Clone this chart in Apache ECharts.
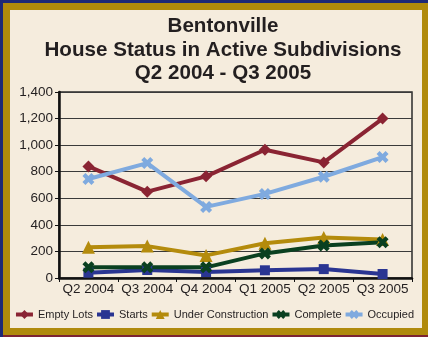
<!DOCTYPE html>
<html>
<head>
<meta charset="utf-8">
<script src="https://cdn.jsdelivr.net/npm/echarts@6/dist/echarts.min.js"></script>
<style>
  html, body { margin: 0; padding: 0; }
  body { width: 428px; height: 337px; position: relative; overflow: hidden; background: #1d2877; }
  #gold { position: absolute; left: 3px; top: 3px; width: 425px; height: 332px; background: #b08a0c; }
  #edge { position: absolute; left: 3px; top: 335px; width: 425px; height: 2px; background: #7d2333; }
  #panel { position: absolute; left: 10px; top: 10px; width: 412px; height: 318px; background: #f5ecdd; }
  #chart { position: absolute; left: 0; top: 0; width: 428px; height: 337px; }
</style>
</head>
<body>
<div id="gold"></div>
<div id="edge"></div>
<div id="panel"></div>
<div id="chart"></div>
<script>
// Quarterly house counts in active subdivisions
const quarters = ['Q2 2004', 'Q3 2004', 'Q4 2004', 'Q1 2005', 'Q2 2005', 'Q3 2005'];
const emptyLots = [840, 650, 765, 965, 870, 1200];
const starts = [40, 60, 45, 58, 67, 30];
const underConstruction = [232, 240, 170, 262, 305, 290];
const complete = [80, 80, 80, 185, 245, 270];
const occupied = [745, 865, 535, 633, 762, 910];

const FONT = "'Liberation Sans', Arial, sans-serif";
const TEXT = '#231f20';
// chunky "X" marker
const X_MARK = 'path://M2.5,0 L5,2.5 L7.5,0 L10,2.5 L7.5,5 L10,7.5 L7.5,10 L5,7.5 L2.5,10 L0,7.5 L2.5,5 L0,2.5 Z';

function lineSeries(name, data, color, symbol, size) {
  return {
    name: name,
    type: 'line',
    data: data,
    symbol: symbol,
    symbolSize: size,
    showAllSymbol: true,
    lineStyle: { color: color, width: 4 },
    itemStyle: { color: color, borderWidth: 0 },
    emphasis: { disabled: true },
    animation: false
  };
}

const chart = echarts.init(document.getElementById('chart'), null, { renderer: 'canvas' });
chart.setOption({
  backgroundColor: 'transparent',
  textStyle: { fontFamily: FONT },
  title: {
    text: 'Bentonville\nHouse Status in Active Subdivisions\nQ2 2004 - Q3 2005',
    left: 218,
    textAlign: 'center',
    top: 10,
    textStyle: {
      fontFamily: FONT,
      fontSize: 20.6,
      fontWeight: 'bold',
      color: TEXT,
      lineHeight: 23.5
    }
  },
  legend: {
    top: 309,
    left: 'center',
    padding: 0,
    itemWidth: 17,
    itemHeight: 11,
    itemGap: 2,
    lineStyle: { width: 4 },
    textStyle: { fontFamily: FONT, fontSize: 11, color: TEXT },
    data: ['Empty Lots', 'Starts', 'Under Construction', 'Complete', 'Occupied']
  },
  grid: {
    left: 59,
    top: 92,
    right: 16,
    bottom: 59,
    show: true,
    borderColor: '#2a2a2a',
    borderWidth: 1.5,
    backgroundColor: 'transparent'
  },
  xAxis: {
    type: 'category',
    data: quarters,
    boundaryGap: true,
    axisLine: { lineStyle: { color: '#111', width: 2.5 } },
    axisTick: { show: true, length: 4, lineStyle: { color: '#111', width: 1 } },
    axisLabel: { interval: 0, fontFamily: FONT, fontSize: 13.5, color: TEXT, margin: 4 },
    splitLine: { show: false }
  },
  yAxis: {
    type: 'value',
    min: 0,
    max: 1400,
    interval: 200,
    axisLine: { show: true, lineStyle: { color: '#111', width: 2.5 } },
    axisTick: { show: true, length: 4, lineStyle: { color: '#111', width: 1 } },
    axisLabel: {
      fontFamily: FONT,
      fontSize: 13.5,
      color: TEXT,
      margin: 6,
      formatter: v => v.toLocaleString('en-US')
    },
    splitLine: { lineStyle: { color: '#3a3a3a', width: 1 } }
  },
  series: [
    lineSeries('Empty Lots', emptyLots, '#8a2433', 'diamond', 12),
    lineSeries('Starts', starts, '#2a3592', 'rect', 10),
    lineSeries('Under Construction', underConstruction, '#b48b0c', 'triangle', 13),
    lineSeries('Complete', complete, '#0a4020', X_MARK, 12),
    lineSeries('Occupied', occupied, '#7faadf', X_MARK, 12)
  ]
});
</script>
</body>
</html>
